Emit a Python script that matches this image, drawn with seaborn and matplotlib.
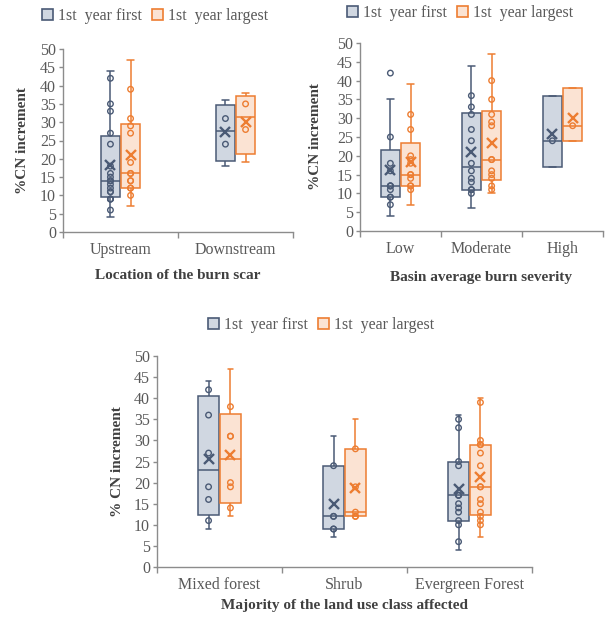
import numpy as np
import pandas as pd
import matplotlib
matplotlib.use("Agg")
import matplotlib as mpl
import matplotlib.pyplot as plt
from matplotlib.patches import Patch
from matplotlib.ticker import FixedLocator
import seaborn as sns

SERIES = ["1st  year first", "1st  year largest"]
EDGE = {SERIES[0]: "#4a5a75", SERIES[1]: "#ed7d31"}
FILL = {SERIES[0]: "#d0d7e1", SERIES[1]: "#fbe3d3"}
TICK_C = "#595959"
LABEL_C = "#404040"
AXIS_C = "#8c8c8c"

# location of the burn scar
location_cats = ["Upstream", "Downstream"]
upstream_first = [4, 6, 9, 9, 9, 11, 11, 12, 13, 14, 14, 15, 16, 18, 24, 27, 33, 35, 42, 44]
upstream_largest = [7, 10, 12, 12, 14, 14, 16, 16, 19, 27, 29, 31, 39, 47]
downstream_first = [18, 24, 31, 36]
downstream_largest = [19, 28, 35, 38]

# basin average burn severity
severity_cats = ["Low", "Moderate", "High"]
low_first = [4, 7, 9, 9, 11, 12, 12, 12, 16, 18, 25, 35, 42]
low_largest = [7, 11, 12, 12, 14, 15, 15, 18, 19, 20, 27, 31, 39]
moderate_first = [6, 10, 11, 11, 13, 14, 16, 18, 24, 27, 31, 33, 36, 44]
moderate_largest = [10, 11, 12, 14, 15, 16, 19, 19, 28, 29, 31, 35, 40, 47]
high_first = [17, 24, 36]
high_largest = [24, 28, 38]

# majority land use class
landuse_cats = ["Mixed forest", "Shrub", "Evergreen Forest"]
mixed_first = [9, 11, 16, 19, 27, 36, 42, 44]
mixed_largest = [12, 14, 19, 20, 31, 31, 38, 47]
shrub_first = [7, 9, 9, 12, 12, 24, 31]
shrub_largest = [12, 12, 12, 13, 19, 28, 35]
evergreen_first = [4, 6, 10, 11, 13, 14, 15, 17, 17, 17, 24, 25, 33, 35, 36]
evergreen_largest = [7, 10, 11, 12, 13, 15, 16, 19, 19, 24, 27, 29, 29, 30, 39, 40]


def excel_box(x, whis=1.5):
    """Quartiles the way Excel's box & whisker chart does it (exclusive)."""
    x = np.sort(np.asarray(x, dtype=float))
    q1, med, q3 = np.percentile(x, [25, 50, 75], method="weibull")
    iqr = q3 - q1
    inner = x[(x >= q1 - whis * iqr) & (x <= q3 + whis * iqr)]
    return q1, med, q3, inner.min(), inner.max()


_mpl_stats = mpl.cbook.boxplot_stats


def excel_boxplot_stats(X, whis=1.5, bootstrap=None, labels=None, autorange=False):
    stats = _mpl_stats(X, whis=whis, bootstrap=bootstrap, labels=labels, autorange=autorange)
    for st, x in zip(stats, X):
        q1, med, q3, lo, hi = excel_box(x, whis)
        x = np.asarray(x, dtype=float)
        st.update(q1=q1, med=med, q3=q3, iqr=q3 - q1, whislo=lo, whishi=hi,
                  fliers=x[(x < lo) | (x > hi)])
    return stats


# seaborn calls mpl.cbook.boxplot_stats, swap in the Excel flavour
mpl.cbook.boxplot_stats = excel_boxplot_stats


def long_frames(cats, firsts, largests):
    rows, pts = [], []
    for cat, first, largest in zip(cats, firsts, largests):
        for series, vals in zip(SERIES, (first, largest)):
            rows += [(cat, series, v) for v in vals]
            # Excel draws no inner point on the whisker ends
            lo, hi = excel_box(vals)[3:]
            shown = list(vals)
            shown.remove(lo)
            shown.remove(hi)
            pts += [(cat, series, v) for v in shown]
    cols = ["cat", "series", "value"]
    return pd.DataFrame(rows, columns=cols), pd.DataFrame(pts, columns=cols)


def draw_panel(ax, cats, df, pts, width, gap, capw, xlabel, ylabel, legend_xy):
    for s in SERIES:
        sns.boxplot(data=df[df["series"] == s], x="cat", y="value", hue="series",
                    order=cats, hue_order=SERIES, palette=FILL, saturation=1,
                    dodge=True, width=width, gap=gap, linecolor=EDGE[s], linewidth=1.1,
                    showfliers=False, showmeans=True, capwidths=capw,
                    meanprops=dict(marker="x", markeredgecolor=EDGE[s],
                                   markersize=7, markeredgewidth=1.7),
                    legend=False, ax=ax)
    n0 = len(ax.collections)
    sns.stripplot(data=pts, x="cat", y="value", hue="series", order=cats,
                  hue_order=SERIES, palette=EDGE, dodge=True, jitter=False,
                  size=4, linewidth=1.0, legend=False, ax=ax)
    # hollow circles, pulled in to sit on the box centres
    for coll in ax.collections[n0:]:
        xy = np.asarray(coll.get_offsets(), dtype=float)
        if len(xy):
            c = np.round(xy[:, 0])
            xy[:, 0] = c + (xy[:, 0] - c) * width / 0.8
            coll.set_offsets(xy)
        coll.set_edgecolor(coll.get_facecolor())
        coll.set_facecolor("none")

    ax.set_ylim(0, 50)
    ax.set_yticks(range(0, 51, 5))
    ax.set_xlim(-0.5, len(cats) - 0.5)
    ax.xaxis.set_minor_locator(FixedLocator(np.arange(len(cats) + 1) - 0.5))
    ax.tick_params(axis="x", which="major", length=0, pad=7, labelsize=11.5, labelcolor=TICK_C)
    ax.tick_params(axis="x", which="minor", length=4, width=1, color=AXIS_C)
    ax.tick_params(axis="y", length=3, width=1, color=AXIS_C, pad=2,
                   labelsize=11.5, labelcolor=TICK_C)
    sns.despine(ax=ax)
    for side in ("left", "bottom"):
        ax.spines[side].set_color(AXIS_C)
        ax.spines[side].set_linewidth(1.0)
    ax.set_xlabel(xlabel, fontsize=11, fontweight="bold", color=LABEL_C)
    ax.set_ylabel(ylabel, fontsize=11, fontweight="bold", color=LABEL_C)

    handles = [Patch(facecolor=FILL[s], edgecolor=EDGE[s], linewidth=1.2, label=s) for s in SERIES]
    ax.legend(handles=handles, loc="center", bbox_to_anchor=legend_xy,
              bbox_transform=ax.figure.transFigure, ncol=2, frameon=False,
              fontsize=11.5, labelcolor=TICK_C, handlelength=0.7, handleheight=0.7,
              handletextpad=0.3, columnspacing=0.6, borderpad=0)


sns.set_style("ticks")
plt.rcParams["font.family"] = ["Liberation Serif", "DejaVu Serif"]

fig = plt.figure(figsize=(6.06, 6.22), dpi=100)
W, H = 606, 622


def px_axes(left, top, right, bottom):
    return fig.add_axes([left / W, 1 - bottom / H, (right - left) / W, (bottom - top) / H])


ax1 = px_axes(63, 49, 293, 232)
ax2 = px_axes(360, 43, 603, 231)
ax3 = px_axes(157, 356, 532, 567)

df1, pts1 = long_frames(location_cats, [upstream_first, downstream_first],
                        [upstream_largest, downstream_largest])
df2, pts2 = long_frames(severity_cats, [low_first, moderate_first, high_first],
                        [low_largest, moderate_largest, high_largest])
df3, pts3 = long_frames(landuse_cats, [mixed_first, shrub_first, evergreen_first],
                        [mixed_largest, shrub_largest, evergreen_largest])

draw_panel(ax1, location_cats, df1, pts1, 0.35, 0.08, 0.06,
           "Location of the burn scar", "%CN increment", (155 / W, 1 - 16 / H))
draw_panel(ax2, severity_cats, df2, pts2, 0.5, 0.04, 0.08,
           "Basin average burn severity", "%CN increment", (460 / W, 1 - 13 / H))
draw_panel(ax3, landuse_cats, df3, pts3, 0.35, 0.06, 0.045,
           "Majority of the land use class affected", "% CN increment", (321 / W, 1 - 325 / H))

ax1.yaxis.set_label_coords(-0.148, 0.5)
ax1.xaxis.set_label_coords(0.5, -0.202)
ax2.yaxis.set_label_coords(-0.156, 0.5)
ax2.xaxis.set_label_coords(0.5, -0.213)
ax3.yaxis.set_label_coords(-0.088, 0.5)
ax3.xaxis.set_label_coords(0.5, -0.152)

fig.savefig("out.png", dpi=100)
